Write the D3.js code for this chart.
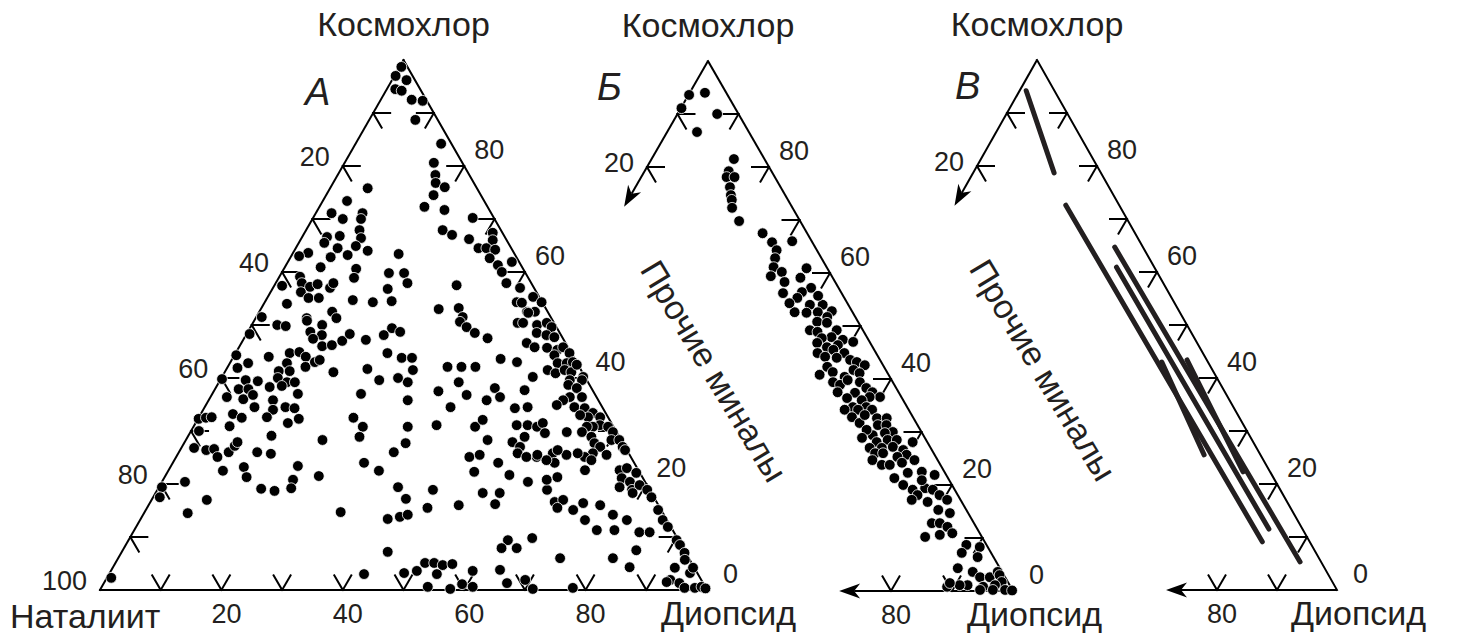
<!DOCTYPE html>
<html><head><meta charset="utf-8">
<script src="https://cdn.jsdelivr.net/npm/d3@7"></script>
<style>
body{margin:0;background:#fff}
svg{display:block}
text{font-family:'Liberation Sans',Arial,Helvetica,sans-serif;fill:#231f20}
</style>
</head><body>
<svg id="chart" width="1459" height="638"></svg>
<script>
// ---------------- DATA ----------------
// each point: [Космохлор %, Диопсид %]  (Наталиит / прочие = 100 - both)
const vertexNames = ["Космохлор", "Наталиит", "Диопсид"];
const otherName = "Прочие миналы";
const panelLetters = ["А", "Б", "В"];
const tickValues = [10, 20, 30, 40, 50, 60, 70, 80, 90];
const leftLabelsA = [20, 40, 60, 80, 100];
const bottomLabelsA = [20, 40, 60, 80];
const rightLabels = [80, 60, 40, 20, 0];
const leftTicksPartial = [10, 20];
const bottomTicksPartial = [90, 80];
const leftLabelsPartial = [20];
const bottomLabelsPartial = [80];
const leftArrowEnd = 72.5;   // Космохлор % where the left arrow stops
const bottomArrowEnd = 71.5; // Диопсид % where the bottom arrow stops

const pointsA = [
[98.7,0.3],[97,0.2],[96.2,2.4],[94.5,1.4],[94.2,2.6],[92.5,5.1],[92.3,7],[88.7,7.6],
[84.2,14.1],[80.6,14.7],[78.3,16.1],[76.8,16.9],[76,18.8],[74.5,17.7],[72.3,17.3],[71.7,20.9],[70.2,26.3],[67.9,22.5],[67,24.5],[66.2,27.7],[64.5,30.1],[67.4,31],[66,31.7],[64.5,31.4],[64.2,33],[62.6,32.9],[61.3,34.9],[60,36.2],[61.9,36.9],[57.9,38],[57,40.7],[54.3,41.5],[55.3,43.7],[54.3,45.6],[52.5,44.1],[52.5,45.4],
[75.8,6.2],[73.4,4],[71.1,2.6],[70,5],[71.1,7.7],[70,8],[66.8,6.1],[66.6,4.1],[65.5,4.2],[67.9,8.8],[66.4,9.8],[64.9,9.7],[64.5,6.9],[64,12.1],[62.8,6.6],[63.2,9.2],[63.6,2.5],[63,1.3],[60.9,5.9],[60.6,11.9],[58.9,12.4],[59.1,3.4],[57.9,4.3],[57.2,6],[57.7,7],[57,9.4],[57.9,9.5],[56.2,5],[55.1,6.8],[55.1,8.5],[57.4,1.3],[54,3.8],[51.5,0.9],[51.3,8.4],[52.5,12],[51.3,13.3],[54.7,14.3],
[63.4,17.5],[59.8,17.7],[59.8,20.2],[57.9,21.7],[56.8,19],[54.5,20.8],[54.3,17.8],[57.5,30],[53,29.3],[53.2,32.5],[51.5,34],
[50,4.2],[49.8,5.7],[50.8,8.7],[50,11.6],[48.7,10.3],[48.1,12.5],[47.4,11.4],[46,13.6],[46.2,15.1],[47,16.4],[48.3,17],[47.2,20.2],[48.1,22.7],[49.4,23.4],[48.7,25.1],[44.7,25],[43.8,27.8],[43.8,29.5],[41.5,30.8],[39.2,31.1],[40,29.1],[35.8,32.8],[41.7,23.2],[39.6,26.2],[37,24.5],[48.3,0.5],[44.3,0.3],[42.8,3],[41.9,1.7],[39.8,0.2],[39.6,4.2],[39.4,6.3],[44,5.8],[44.7,8.9],[44.9,10.4],[44,11.9],[42.1,12.8],[43,13.9],[43.4,14.5],[42.8,9.4],[41.3,8.8],[41.3,10.6],[40,9.3],[39.2,11.2],[39.2,12.5],[38.3,8.8],[38.5,10.7],[41.1,17.9],[37,14.1],[37.9,3.9],[37.9,5.5],[36.4,2.7],[36,5.6],[36.8,6.8],[35.8,10.6],
[34.5,8.2],[34.5,13.3],[34.3,14.9],[34,11.5],[32.6,11.2],[31.5,15.2],[32.3,16.6],[33.2,5.3],[32.5,7.1],[30.9,5.9],[32.3,0.1],[32.5,1.2],[32.6,2.1],[30,1.3],[26.8,2.1],[26.4,4.3],[26.6,5.5],[25.1,6.8],[22.5,9],[26,8.2],[27.2,8.6],[27.9,8.7],[26,12.9],[25.7,15.3],[29.1,13.7],[23.2,12.1],[21.3,13.5],[23.4,20.9],[20.8,21.4],[19.2,21.9],[18.7,19.4],[19.1,17],[28.3,22.5],[21.5,25.3],[19.4,0.5],[17.5,1.1],[20.4,3.8],[17,9.1],[14.5,7.2],[2.3,0.7],
[32.5,25.5],[30.8,27.9],[28.9,28.3],[30.8,35.3],[27.7,36.5],[26,35.4],[24,31.5],[22.5,34.7],[19.4,39.4],[17.2,41.8],[13.4,40.7],[13.8,42.5],[14.2,43.6],[14.7,32.3],[7.2,43.8],[3,42],[50.6,34],[49.6,35.6],[48.5,37.5],[47.5,40.1],[42.1,36.2],[42.1,38.5],[42.1,40.8],[39.2,39.5],[37.5,37],[36.8,42],[34.5,40.5],[31.1,39.9],[30.8,46.4],[28.3,49.7],[25.1,48.3],[22.3,50.5],[18.9,45.4],[15.5,46.2],[16,51.1],[3.2,48.5],[3.6,50.4],[5.1,51],[5.1,52.5],[4.7,54.1],[4.9,55.6],[3,54],[0.6,53.7],[0.2,57.6],[1.1,59.1],[3.6,59.6],[0.6,61.1],
[43.6,44.2],[43,47.2],[40.2,51.2],[37.7,51.1],[34.5,53.2],[34.3,51.2],[38.1,46],[36.4,47.7],[35.8,45.8],[32.1,47],[27.9,54],[28.9,55.5],[31.1,53.1],[31.1,54.9],[30.8,56.6],[31.5,57.2],[27,55.7],[25.8,55.9],[25.1,57.7],[25.1,59.4],[29.6,58.5],[25.8,61.7],[29.8,62],[21.7,56.6],[24,53.6],[25.5,49.8],[20.4,60.3],[18.9,64.2],[20.8,63.2],[18.3,53.9],[18.3,56.7],[16.2,57],[16.6,66.6],[17,67.8],[15.5,67.6],[15.1,70.4],[16.4,71.4],[16,74.4],[13.2,73.3],[11.3,76.2],[14.2,77.4],[13.2,80.2],[11.3,79.1],[10.9,83.4],[10.9,85.1],[7.5,84.6],[6,81.5],[4.3,85.1],[6,72.8],[9.8,66.3],[9.4,62.5],[7.9,62.2],[7.9,64.7],[3.8,64],[1.3,66.4],[1.9,69.1],[0.2,71.2],[0.4,77.7],[50.4,43.6],
[54.2,42.4],[52.3,44.4],[50.4,44.5],[50,47],[50.4,48.4],[49.6,49.6],[48.5,47.7],[48.1,49.5],[47.7,51],[46.6,47],[45.8,48.7],[45.7,50.8],[45.3,52.7],[45.8,53.4],[44.7,55],[44.3,52.7],[42.8,54],[42.8,55.5],[43,56.4],[41.5,53],[40.9,54.6],[41.5,55.8],[41.1,57.1],[42.5,57.3],[40.2,59.5],[39.6,59.6],[39.6,57.6],[38.7,57.8],[38.1,59.5],[36.4,61.2],[36.4,59.2],[35.8,58.4],[34.9,57.8],[34.5,60.9],[34.3,62.7],[33.4,64.5],[32.6,66.1],[32.6,64.1],[33,62.6],[31.1,66.8],[30.8,68.3],[29.8,69.6],[30.8,65.8],[30.8,64.8],[29.8,64.5],[28.9,66.5],[27.7,67.6],[27,68.9],[28.3,70.1],[28.3,71.4],[27,72.6],[26.4,73.3],[25.5,70.7],[25.8,68.3],[25.1,67.3],[24.5,68.7],[25.8,65.8],[25.5,64.1],[26.4,62.2],[24,62.9],[24.5,61.3],[25.5,59.3],[21.3,64.7],[22.6,68.6],[22.6,74.3],[23,75.3],[22.1,77.3],[21.1,75.4],[20.4,77.1],[19.4,75.9],[18.9,78.2],[19.8,79],[18.9,80.7],[17.5,82.1],[18.3,78.6],[15.1,84.4],[13.2,86.1],[11.9,87.6],[9.4,90.3],[8.5,91.3],[7,92.8],[5.7,93.5],[3.2,95.6],[4.2,95.6],[4.2,92.6],[1.9,93],[1.3,94.8],[0.4,96.1],[0.4,97.8],[0.6,98.8],[0.3,99.6],[1.5,92.6]
];

const pointsB = [
[93.6,0.1],[94,2.5],[91.1,0.1],[90,6.5],[86.6,4.9],[81.5,13.5],[79.2,13.8],[78.1,14],[78.1,15.3],[76.2,15.5],[74.7,16.4],[73.8,17],[72.3,17.8],[69.8,20.2],[67.5,25.2],[65.8,27.6],[66,30.8],[64.3,29.1],[62.8,29.6],[61.1,30.2],[60.2,32],[59.4,30.6],[58.3,33.4],[59.1,35.6],[60.9,35.7],[57.2,38.3],[56.4,37.2],[56.2,34.2],[55.3,37],[54,39.7],[52.6,37.9],[54,41.8],[54.3,36.2],[55.7,40.2],[52.5,39.9],[52.6,41.7],[52.8,43.9],[51.7,43.7],[50.8,42.5],[50.6,44.2],[49.2,46.5],[49.2,42.1],[48.9,43.5],[47.9,46.3],[47.7,44.8],[47.4,48.4],[47,50.3],[46.8,44.5],[46.4,48.1],[46,46.5],[44.9,45.5],[45.5,47.8],[44.9,49.9],[44.2,47.1],[44,49.1],[43.6,51.5],[43.2,52.8],[42.6,54.4],[42.3,48.4],[41.3,49.8],[41.7,53],[41.1,54.3],[40.8,47.9],[40.4,52.2],[39.4,50.8],[38.9,52.2],[39.8,53],[39.4,55.2],[38.3,56.8],[37.5,58.2],[37.5,52.5],[36.6,59.9],[36.6,58.2],[37.4,55.4],[36.4,54.6],[36,57.2],[34.7,58.6],[34.7,56.4],[34.2,57.5],[34.2,55.3],[34.2,59.8],[32.8,57.2],[31.7,59],[33.2,59.1],[32.6,61.4],[32.6,63],[31.3,62.2],[31.3,63.6],[30,65.3],[29.8,64.1],[29.4,62.3],[30.4,60.8],[28.9,60.8],[28.1,63.6],[28.5,65.2],[28.5,66.7],[27.2,66.7],[27,65],[27,63],[26,64.4],[26,65.7],[26.6,68.7],[25.7,69.7],[25.3,68.4],[24.7,64.6],[24.7,71.5],[23.8,66.6],[23.8,67.9],[28.1,69.5],[24.2,69.7],[22.3,71.6],[22.5,73.8],[21.9,76.2],[21.3,69.9],[20,72],[19.1,74],[19.4,75.9],[19.1,77.3],[18.1,78.9],[18.1,75.3],[17.2,80.6],[16.8,77.6],[17.2,74.8],[20.9,74.6],[15.3,80.1],[12.8,80.3],[12.8,81.6],[14.7,82.3],[12.1,83.2],[10.9,84.6],[10.6,82.7],[10.2,80.5],[8.7,88],[7.2,88],[8.3,90.4],[6.4,91],[4.3,88.8],[3.6,91.6],[2.6,93.3],[2.6,94.9],[3.6,95.7],[3,96.3],[1.7,97.3],[1.1,96.5],[0.8,94.7],[0.2,96.6],[0.2,98.6],[0.1,99.8],[1.1,92],[1.1,90.7],[0.8,88.8],[1.5,88.9],[0.2,94.5]
];

// segments in panel В: [[Ko start, Di start],[Ko end, Di end]]
const linesC = [
[[94.2,1.1],[78.7,13.5]],
[[72.6,18.5],[9.1,83.0]],
[[64.7,30.6],[5.3,91.2]],
[[60.9,32.8],[11.5,82.9]],
[[43.0,49.3],[25.5,65.1]],
[[43.4,53.3],[22.3,73.2]]
];

// ---------------- LAYOUT ----------------
const ink = "#231f20";
const svg = d3.select("#chart");
const panels = [
  {x0:100, x1:707, y0:590, y1:60, full:true, points:pointsA, letter:panelLetters[0], letterPos:[305,105]},
  {x0:403, x1:1013, y0:591, y1:61, full:false, points:pointsB, letter:panelLetters[1], letterPos:[597,100]},
  {x0:737, x1:1337, y0:590, y1:60, full:false, lines:linesC, letter:panelLetters[2], letterPos:[955,99]}
];
const TL = 17; // whisker length
const s3 = Math.sqrt(3)/2;

function arrow(g, from, to){
  const dx=to[0]-from[0], dy=to[1]-from[1], L=Math.hypot(dx,dy), ux=dx/L, uy=dy/L;
  const len=21, hw=7.5, notch=6;
  const bx=to[0]-ux*len, by=to[1]-uy*len, px=-uy, py=ux;
  const n=[to[0]-ux*(len-notch), to[1]-uy*(len-notch)];
  g.append("line").attr("x1",from[0]).attr("y1",from[1]).attr("x2",n[0]).attr("y2",n[1])
    .attr("stroke","#000").attr("stroke-width",2);
  g.append("path").attr("d",`M${to[0]},${to[1]}L${bx+px*hw},${by+py*hw}L${n[0]},${n[1]}L${bx-px*hw},${by-py*hw}Z`)
    .attr("fill","#000");
}

panels.forEach((cfg, i) => {
  const g = svg.append("g");
  const xs = d3.scaleLinear().domain([0,100]).range([cfg.x0, cfg.x1]);
  const ys = d3.scaleLinear().domain([0,100]).range([cfg.y0, cfg.y1]);
  const P = (ko, di) => [xs(di + ko/2), ys(ko)];
  const line = (a,b) => g.append("line").attr("x1",a[0]).attr("y1",a[1]).attr("x2",b[0]).attr("y2",b[1])
     .attr("stroke","#000").attr("stroke-width",2).attr("stroke-linecap","square");
  const top = P(100,0), left = P(0,0), right = P(0,100);

  // edges
  line(top, right);
  if (cfg.full) { line(top, left); line(left, right); }
  else { arrow(g, top, P(leftArrowEnd,0)); arrow(g, right, P(0,bottomArrowEnd)); }

  // ticks
  const whisk = (p, dirs) => dirs.forEach(d => line(p, [p[0]+d[0]*TL, p[1]+d[1]*TL]));
  const lt = cfg.full ? tickValues : leftTicksPartial;
  const bt = cfg.full ? tickValues : bottomTicksPartial;
  lt.forEach(v => whisk(P(100-v,0), [[1,0],[0.5,s3]]));
  tickValues.forEach(v => whisk(P(v,100-v), [[-1,0],[-0.5,s3]]));
  bt.forEach(v => whisk(P(0,v), [[-0.5,-s3],[0.5,-s3]]));

  // tick labels
  const num = (p, txt, anchor) => g.append("text").attr("x",p[0]).attr("y",p[1])
      .attr("text-anchor",anchor).attr("font-size",27).text(txt);
  (cfg.full ? leftLabelsA : leftLabelsPartial).forEach(v => {
    const p = P(100-v,0); num([p[0]-13, p[1]+ (cfg.full?0:5)], v, "end");
  });
  (cfg.full ? bottomLabelsA : bottomLabelsPartial).forEach(v => {
    const p = P(0,v); num([p[0]+5, p[1]+33], v, "middle");
  });
  rightLabels.forEach(v => {
    const p = P(v,100-v); num([p[0] + (v===0?16:10), p[1]-7], v, "start");
  });

  // vertex names
  g.append("text").attr("x",top[0]).attr("y",top[1]-24).attr("text-anchor","middle")
    .attr("font-size",34).text(vertexNames[0]);
  g.append("text").attr("x",right[0]-46).attr("y",right[1]+35).attr("text-anchor","start")
    .attr("font-size",34).text(vertexNames[2]);
  if (cfg.full) {
    g.append("text").attr("x",left[0]-90).attr("y",left[1]+38).attr("text-anchor","start")
      .attr("font-size",34).text(vertexNames[1]);
  } else {
    const c = [top[0]+6, ys(41.5)];
    g.append("text").attr("transform",`translate(${c[0]},${c[1]}) rotate(59)`)
      .attr("text-anchor","middle").attr("dy","0.35em").attr("font-size",34).text(otherName);
  }

  // panel letter
  g.append("text").attr("x",cfg.letterPos[0]).attr("y",cfg.letterPos[1])
    .attr("font-size",38).attr("font-style","italic").text(cfg.letter);

  // data
  if (cfg.points) {
    g.append("g").selectAll("circle").data(cfg.points).join("circle")
      .attr("cx", d => P(d[0],d[1])[0]).attr("cy", d => P(d[0],d[1])[1])
      .attr("r", 5.4).attr("fill","#000").attr("stroke","#fff").attr("stroke-width",0.8);
  }
  if (cfg.lines) {
    g.append("g").selectAll("line").data(cfg.lines).join("line")
      .attr("x1", d => P(d[0][0],d[0][1])[0]).attr("y1", d => P(d[0][0],d[0][1])[1])
      .attr("x2", d => P(d[1][0],d[1][1])[0]).attr("y2", d => P(d[1][0],d[1][1])[1])
      .attr("stroke", ink).attr("stroke-width",5).attr("stroke-linecap","round");
  }
});
</script>
</body></html>
